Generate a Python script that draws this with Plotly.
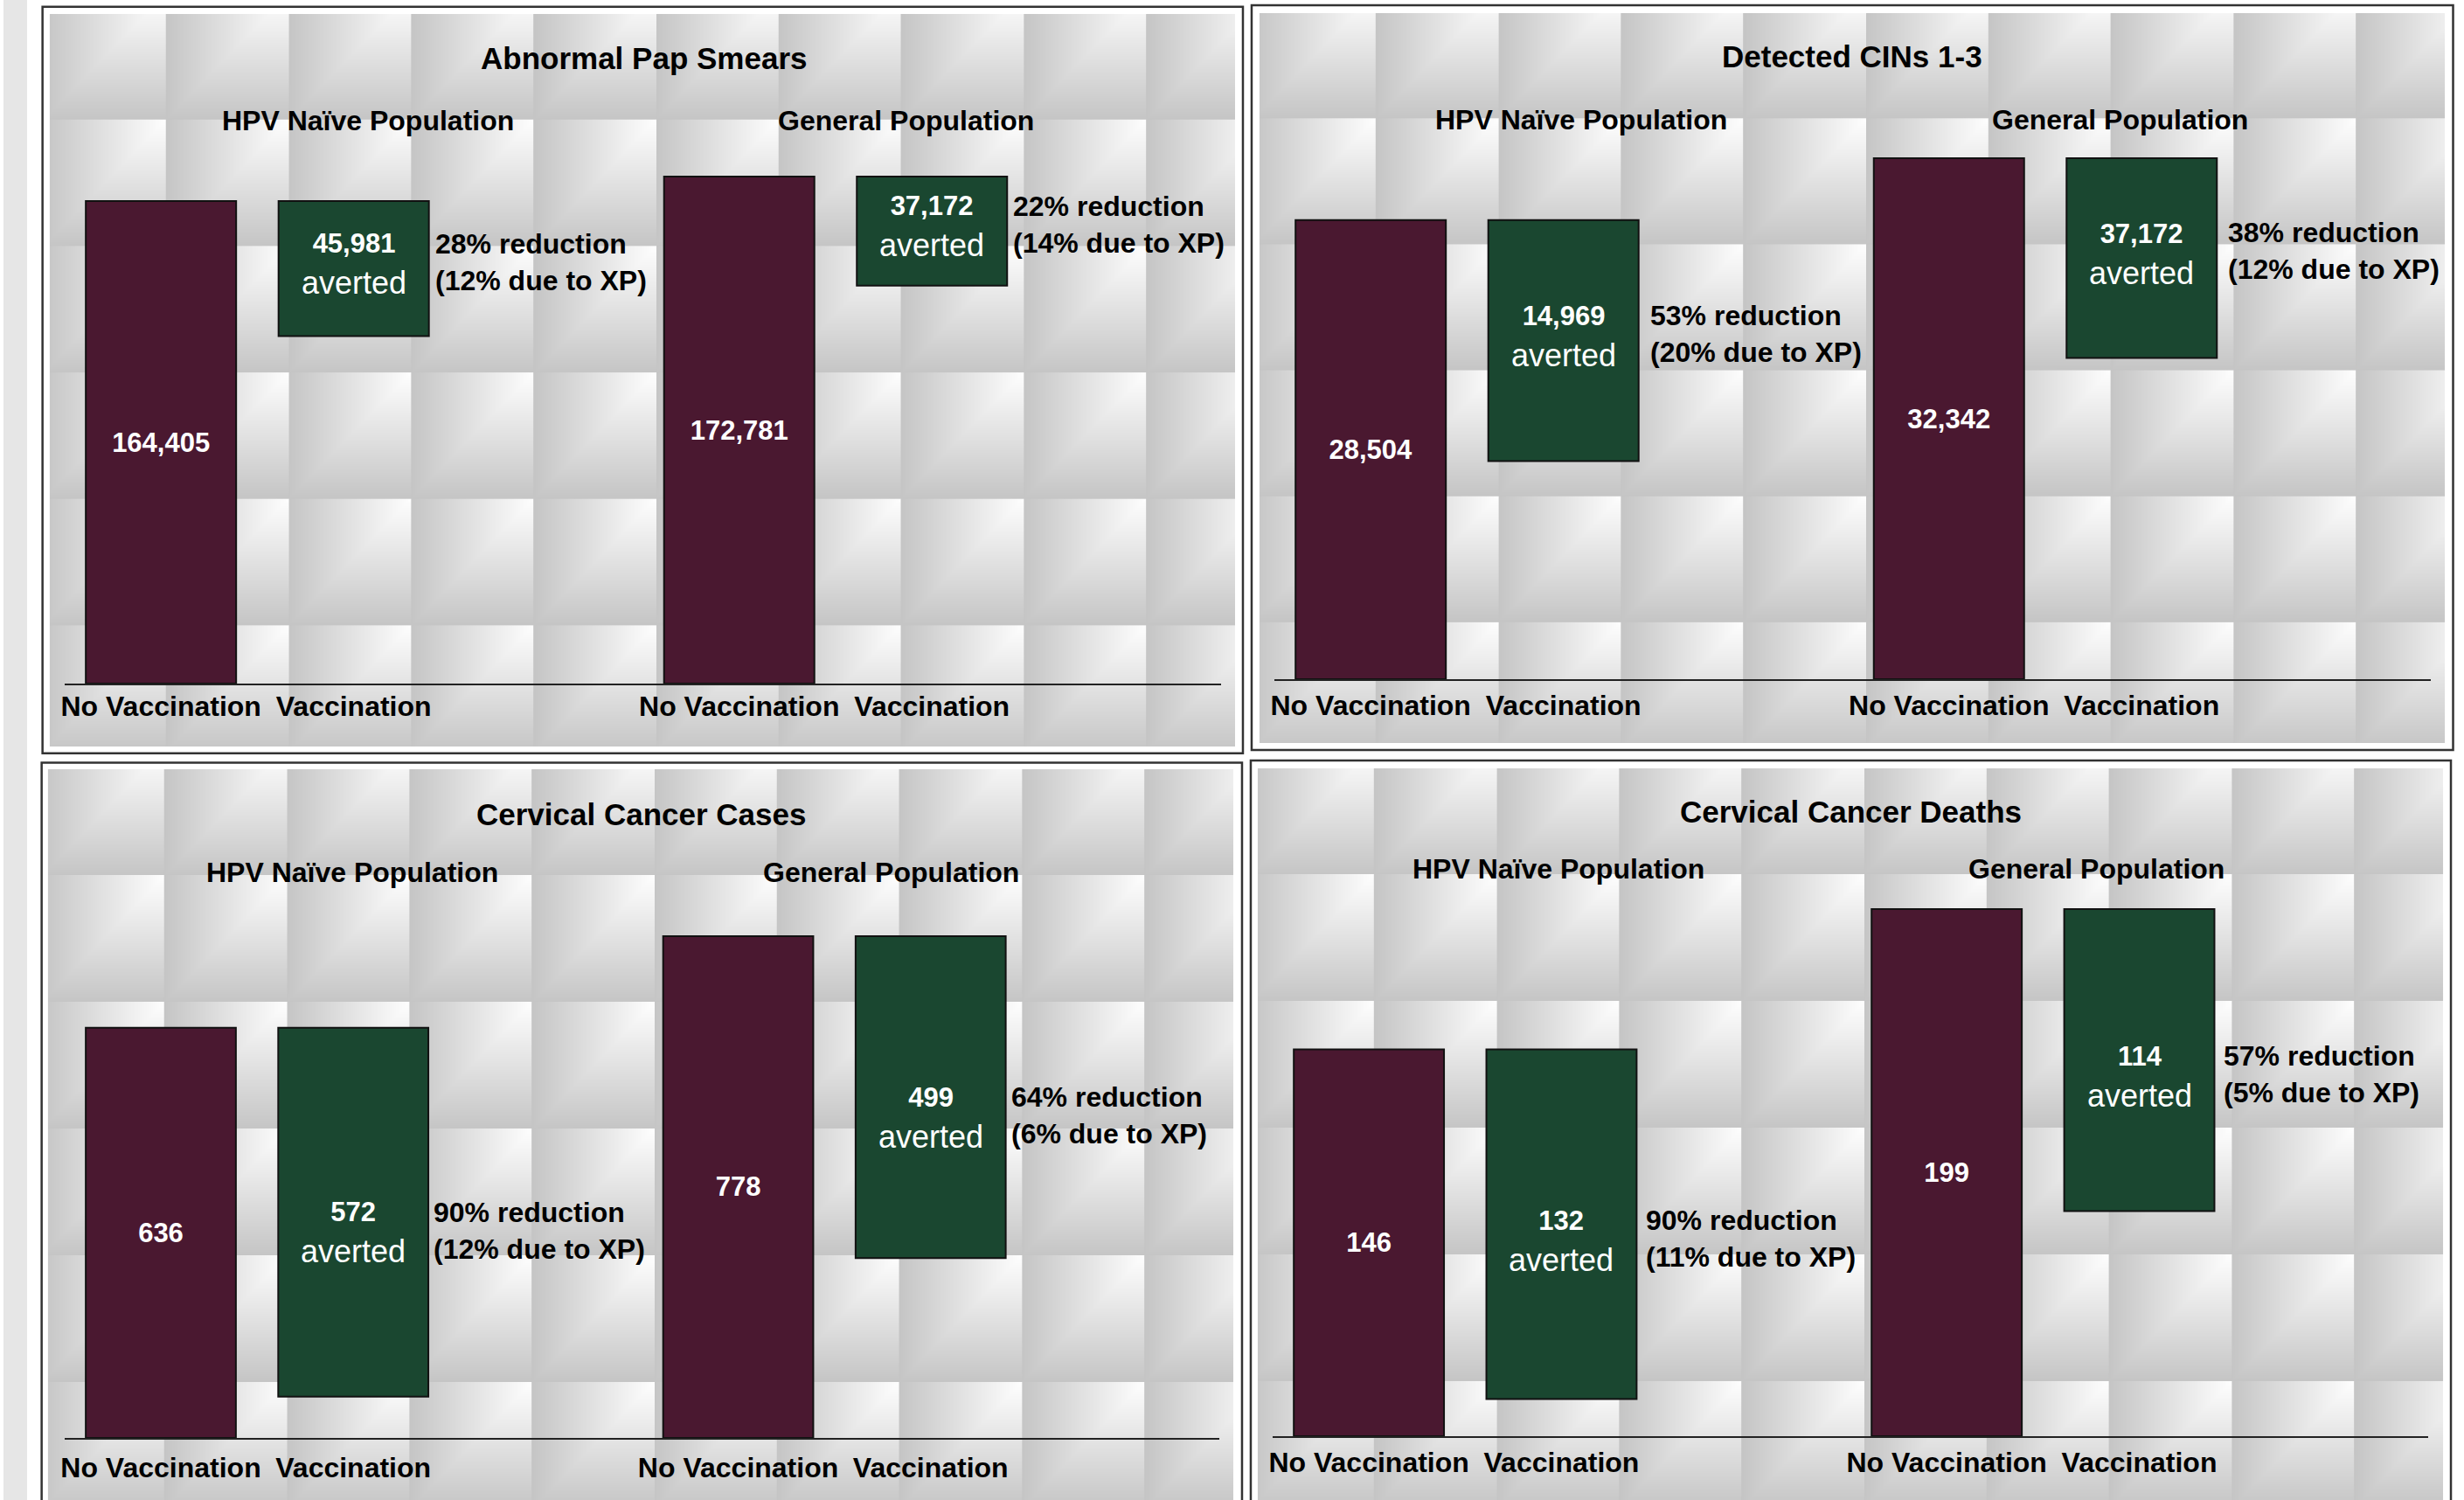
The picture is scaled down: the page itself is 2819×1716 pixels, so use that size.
import base64, struct, zlib
import numpy as np
import plotly.graph_objects as go

W, H = 2819, 1716
FONT = "Liberation Sans, Arial, sans-serif"

# ---------------- data ----------------
panel_titles = ["Abnormal Pap Smears", "Detected CINs 1-3", "Cervical Cancer Cases", "Cervical Cancer Deaths"]
group_labels = ["HPV Naïve Population", "General Population"]
tick_labels = ["No Vaccination", "Vaccination", "No Vaccination", "Vaccination"]
tick_positions = [0, 1, 3, 4]

hpv_no_vacc = [164405, 28504, 636, 146]
hpv_averted = [45981, 14969, 572, 132]
gen_no_vacc = [172781, 32342, 778, 199]
gen_averted = [37172, 12400, 499, 114]
gen_averted_label = ["37,172", "37,172", "499", "114"]

hpv_reduction = ["28%", "53%", "90%", "90%"]
hpv_due_xp = ["12%", "20%", "12%", "11%"]
gen_reduction = ["22%", "38%", "64%", "57%"]
gen_due_xp = ["14%", "12%", "6%", "5%"]

# ---------------- style / geometry ----------------
MAROON = "#4a1830"
GREEN = "#1a4730"
EDGE = "#111111"
BAR_W = 0.78
HEAD = 1.1

GEOM = [
    dict(border=(44.7, 7.7, 1420, 861.7), inner=(53, 16, 1358, 838), ax=(70, 1395), base=782, top=202,
         title=(734, 67), hpv=(418, 138), gen=(1034, 138), standoff=-3, gshift=5, rshift=7, rdx=5),
    dict(border=(1430, 6, 2806.5, 858), inner=(1439, 15, 1358, 835), ax=(1456, 2781), base=777, top=181,
         title=(2118, 65), hpv=(1808, 137), gen=(2425, 137), standoff=1, gshift=4, rshift=8, rdx=11),
    dict(border=(43.7, 872.5, 1419, 1760), inner=(51, 880, 1358, 840), ax=(70, 1393), base=1645, top=1071,
         title=(731, 931), hpv=(400, 998), gen=(1017, 998), standoff=5, gshift=-24, rshift=-21, rdx=4),
    dict(border=(1429, 870, 2804, 1760), inner=(1437, 879, 1358, 840), ax=(1454, 2778), base=1643, top=1040,
         title=(2117, 928), hpv=(1782, 994), gen=(2398, 994), standoff=1, gshift=-20, rshift=-16, rdx=9),
]


def px(x):
    return x / W


def py(y):
    return 1 - y / H


def png_gray(arr):
    h, w = arr.shape
    a = arr.astype(np.int16)
    d = np.empty_like(a)
    d[:, 0] = a[:, 0]
    d[:, 1:] = a[:, 1:] - a[:, :-1]
    d = (d % 256).astype(np.uint8)
    raw = np.hstack([np.ones((h, 1), np.uint8), d]).tobytes()

    def chunk(t, data):
        c = struct.pack(">I", len(data)) + t + data
        return c + struct.pack(">I", zlib.crc32(t + data) & 0xFFFFFFFF)

    ihdr = struct.pack(">IIBBBBB", w, h, 8, 0, 0, 0, 0)
    return b"\x89PNG\r\n\x1a\n" + chunk(b"IHDR", ihdr) + chunk(b"IDAT", zlib.compress(raw, 9)) + chunk(b"IEND", b"")


def tile_texture(w, h):
    tw, th = 140.3, 144.8
    ox, oy = 7.3, 23.8
    xf = ((np.arange(w) + ox) % tw) / tw
    yf = ((np.arange(h) + oy) % th) / th
    s = np.minimum(xf[None, :], 1.0 - yf[:, None])
    v = 197 + 57 * s
    return np.clip(np.round(v), 0, 255).astype(np.uint8)


tex_uri = "data:image/png;base64," + base64.b64encode(png_gray(tile_texture(1358, 840))).decode()

fig = go.Figure()
layout = dict(
    width=W, height=H, margin=dict(l=0, r=0, t=0, b=0, pad=0),
    paper_bgcolor="white", plot_bgcolor="rgba(0,0,0,0)", showlegend=False,
    barmode="overlay", images=[], shapes=[], annotations=[],
)

# left grey strip
layout["shapes"].append(dict(type="rect", xref="paper", yref="paper", x0=0, x1=px(27), y0=py(H + 10), y1=1,
                             fillcolor="#e6e6e6", line=dict(width=0), layer="below"))

for i, G in enumerate(GEOM):
    sfx = "" if i == 0 else str(i + 1)
    xa, ya = "x" + sfx, "y" + sfx

    # panel texture + border
    ix, iy, iw, ih = G["inner"]
    layout["images"].append(dict(source=tex_uri, xref="paper", yref="paper", x=px(ix), y=py(iy),
                                 sizex=iw / W, sizey=ih / H, sizing="stretch", xanchor="left",
                                 yanchor="top", layer="below"))
    bx0, by0, bx1, by1 = G["border"]
    layout["shapes"].append(dict(type="rect", xref="paper", yref="paper", x0=px(bx0), x1=px(bx1),
                                 y0=py(by1), y1=py(by0), line=dict(color="#333333", width=2.5),
                                 fillcolor="rgba(0,0,0,0)", layer="below"))

    nv = [hpv_no_vacc[i], gen_no_vacc[i]]
    av = [hpv_averted[i], gen_averted[i]]
    av_lbl = [f"{hpv_averted[i]:,}", gen_averted_label[i]]
    red = [(hpv_reduction[i], hpv_due_xp[i]), (gen_reduction[i], gen_due_xp[i])]

    fig.add_trace(go.Bar(
        x=[0, 3], y=nv, width=BAR_W, xaxis=xa, yaxis=ya,
        marker=dict(color=MAROON, line=dict(color=EDGE, width=2)),
        text=[f"{v:,}" for v in nv], textposition="inside", insidetextanchor="middle",
        textangle=0, constraintext="none",
        textfont=dict(family=FONT, size=31, color="white", weight="bold"),
        hoverinfo="skip"))
    fig.add_trace(go.Bar(
        x=[1, 4], y=av, base=[n - a for n, a in zip(nv, av)], width=BAR_W, xaxis=xa, yaxis=ya,
        marker=dict(color=GREEN, line=dict(color=EDGE, width=2)), hoverinfo="skip"))

    ymax = max(nv) * HEAD
    dom_top = G["base"] - HEAD * (G["base"] - G["top"])
    layout["xaxis" + sfx] = dict(
        domain=[px(G["ax"][0]), px(G["ax"][1])], anchor=ya, range=[-0.5, 5.5], type="linear",
        showline=True, linecolor="#222222", linewidth=2, showgrid=False, zeroline=False,
        tickmode="array", tickvals=tick_positions, ticktext=tick_labels, tickangle=0,
        ticks="", ticklabelstandoff=G["standoff"],
        tickfont=dict(family=FONT, size=32, color="black", weight="bold"), fixedrange=True)
    layout["yaxis" + sfx] = dict(
        domain=[py(G["base"]), py(dom_top)], anchor=xa, range=[0, ymax], visible=False,
        showgrid=False, zeroline=False, fixedrange=True)

    # titles
    tx, ty = G["title"]
    layout["annotations"].append(dict(text=panel_titles[i], xref="paper", yref="paper", x=px(tx), y=py(ty),
                                      xanchor="center", yanchor="middle", showarrow=False,
                                      font=dict(family=FONT, size=35, color="black", weight="bold")))
    for lbl, (gx, gy) in zip(group_labels, [G["hpv"], G["gen"]]):
        layout["annotations"].append(dict(text=lbl, xref="paper", yref="paper", x=px(gx), y=py(gy),
                                          xanchor="center", yanchor="middle", showarrow=False,
                                          font=dict(family=FONT, size=32, color="black", weight="bold")))

    for k, xpos in enumerate([1, 4]):
        ymid = nv[k] - av[k] / 2
        layout["annotations"].append(dict(
            text=f"<span style='font-size:31px'><b>{av_lbl[k]}</b></span><br>averted",
            xref=xa, yref=ya, x=xpos, y=ymid, xanchor="center", yanchor="middle",
            yshift=G["gshift"], showarrow=False, font=dict(family=FONT, size=36, color="white")))
        layout["annotations"].append(dict(
            text=f"{red[k][0]} reduction<br>({red[k][1]} due to XP)",
            xref=xa, yref=ya, x=xpos + BAR_W / 2, y=ymid, xanchor="left", yanchor="middle", align="left",
            xshift=G["rdx"], yshift=G["rshift"], showarrow=False,
            font=dict(family=FONT, size=32, color="black", weight="bold")))

fig.update_layout(**layout)
fig.write_html("out.html")
